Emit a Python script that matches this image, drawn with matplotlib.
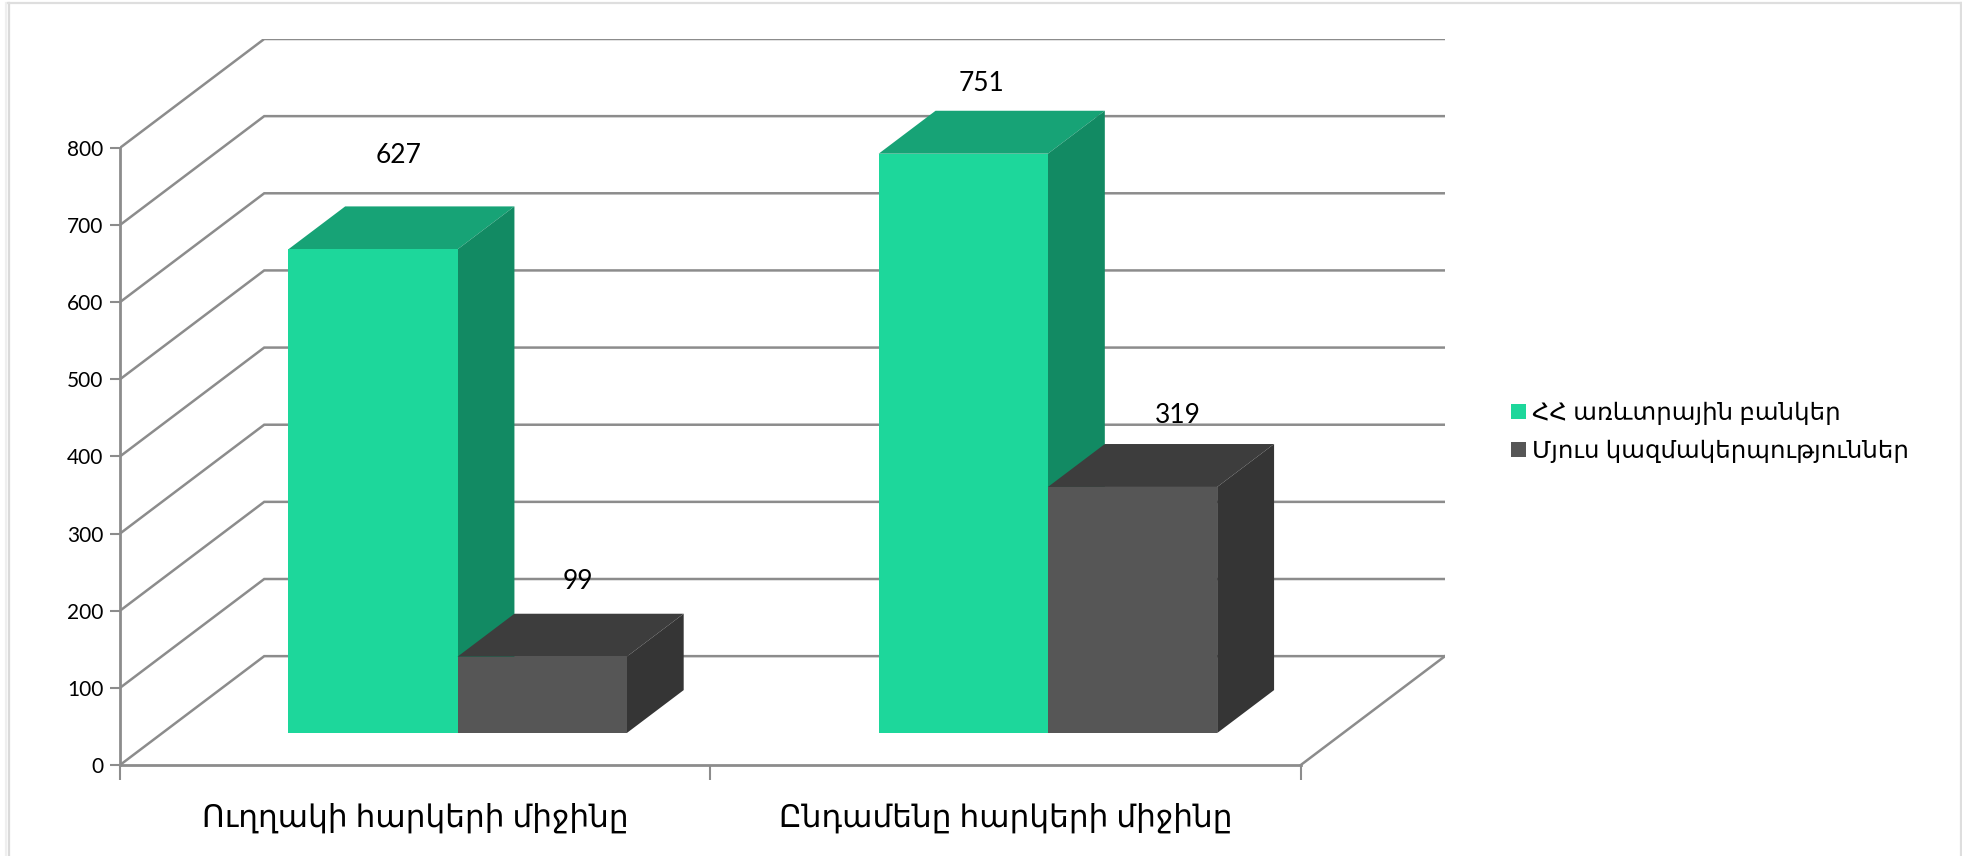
import matplotlib
matplotlib.use("Agg")
import matplotlib.pyplot as plt
from matplotlib.lines import Line2D
from matplotlib.patches import Polygon, Patch

categories = ["Ուղղակի հարկերի միջինը", "Ընդամենը հարկերի միջինը"]
series_names = ["ՀՀ առևտրային բանկեր", "Մյուս կազմակերպություններ"]
banks = [627, 751]
others = [99, 319]
yticks = [0, 100, 200, 300, 400, 500, 600, 700, 800]

W, H = 1962, 856
GRID = "#8c8c8c"
GREEN = ("#1dd79b", "#17a376", "#128a63")
DARK = ("#565656", "#3d3d3d", "#353535")

# value labels were placed by hand in the original, offsets in points
bank_offsets = [(18.2, 67.5), (12.8, 50.5)]
other_offsets = [(25.4, 54), (32.6, 51.4)]

# pixel sizes of the oblique box, turned into data units below
cat_px = 589.5
val_px = 0.7725
depth_x = 144 / cat_px
depth_y = 109 / val_px
bar_w = 169 / cat_px
front = 32 / 109
back = 75 / 109

plt.rcParams["font.family"] = ["Lato", "Open Sans", "Noto Sans", "DejaVu Sans"]

fig = plt.figure(figsize=(W / 100, H / 100), dpi=100, facecolor="white")
ax = fig.add_axes([120 / W, 1 - 765 / H, 1325 / W, 726 / H])
ax.set_xlim(0, 2 + depth_x)
ax.set_ylim(0, 800 + depth_y)
ax.patch.set_visible(False)

# page edge around the pasted chart
for xs, ys, col in [
    ([8.5, 8.5], [3, 856], "#dadada"),
    ([6, 6], [3, 856], "#efefef"),
    ([8, 1961], [2.5, 2.5], "#dedede"),
    ([1960.5, 1960.5], [3, 856], "#dedede"),
]:
    fig.add_artist(Line2D([x / W for x in xs], [1 - y / H for y in ys], color=col, lw=1.6))


def proj(x, v, d):
    return x + depth_x * d, v + depth_y * d


# walls
for v in yticks:
    x0, y0 = proj(0, v, 1)
    x1, y1 = proj(2, v, 1)
    ax.plot([0, x0, x1], [v, y0, y1], color=GRID, lw=1.8, zorder=1, solid_joinstyle="miter")
xe, ye = proj(2, 0, 1)
ax.plot([2, xe], [0, ye], color=GRID, lw=1.8, zorder=1)


def bar3d(x, v, cols, z):
    x2 = x + bar_w
    ax.add_patch(Polygon([proj(x, 0, front), proj(x2, 0, front), proj(x2, v, front), proj(x, v, front)],
                         fc=cols[0], ec="none", zorder=z + 0.2))
    ax.add_patch(Polygon([proj(x, v, front), proj(x2, v, front), proj(x2, v, back), proj(x, v, back)],
                         fc=cols[1], ec="none", zorder=z))
    ax.add_patch(Polygon([proj(x2, 0, front), proj(x2, 0, back), proj(x2, v, back), proj(x2, v, front)],
                         fc=cols[2], ec="none", zorder=z))


def value_label(x, v, off):
    ax.annotate(str(v), xy=proj(x, v, front), xytext=off, textcoords="offset points",
                ha="center", va="center", fontsize=19, color="black", zorder=5)


for i in range(2):
    start = i + 0.5 - bar_w
    bar3d(start, banks[i], GREEN, 2)
    bar3d(start + bar_w, others[i], DARK, 3)
    value_label(start + bar_w / 2, banks[i], bank_offsets[i])
    value_label(start + bar_w * 1.5, others[i], other_offsets[i])

for s in ["top", "right"]:
    ax.spines[s].set_visible(False)
ax.spines["left"].set_bounds(0, 800)
ax.spines["bottom"].set_bounds(0, 2)
for s in ["left", "bottom"]:
    ax.spines[s].set_color(GRID)
    ax.spines[s].set_linewidth(2)
ax.set_yticks(yticks)
ax.tick_params(axis="y", length=7, width=1.5, color=GRID, labelsize=15, pad=5)
ax.set_xticks([0, 1, 2])
ax.set_xticklabels([])
ax.tick_params(axis="x", which="major", length=11, width=1.5, color=GRID)
ax.set_xticks([0.5, 1.5], minor=True)
ax.set_xticklabels(categories, minor=True, fontsize=22.4)
ax.tick_params(axis="x", which="minor", length=0, pad=27)

handles = [Patch(fc=GREEN[0], ec="none"), Patch(fc=DARK[0], ec="none")]
fig.legend(handles, series_names, loc="center left", bbox_to_anchor=(1511 / W, 1 - 432.5 / H),
           frameon=False, fontsize=17.6, handlelength=0.62, handleheight=0.62, handletextpad=0.25,
           labelspacing=0.6, borderpad=0, borderaxespad=0)

fig.savefig("out.png", dpi=100)
